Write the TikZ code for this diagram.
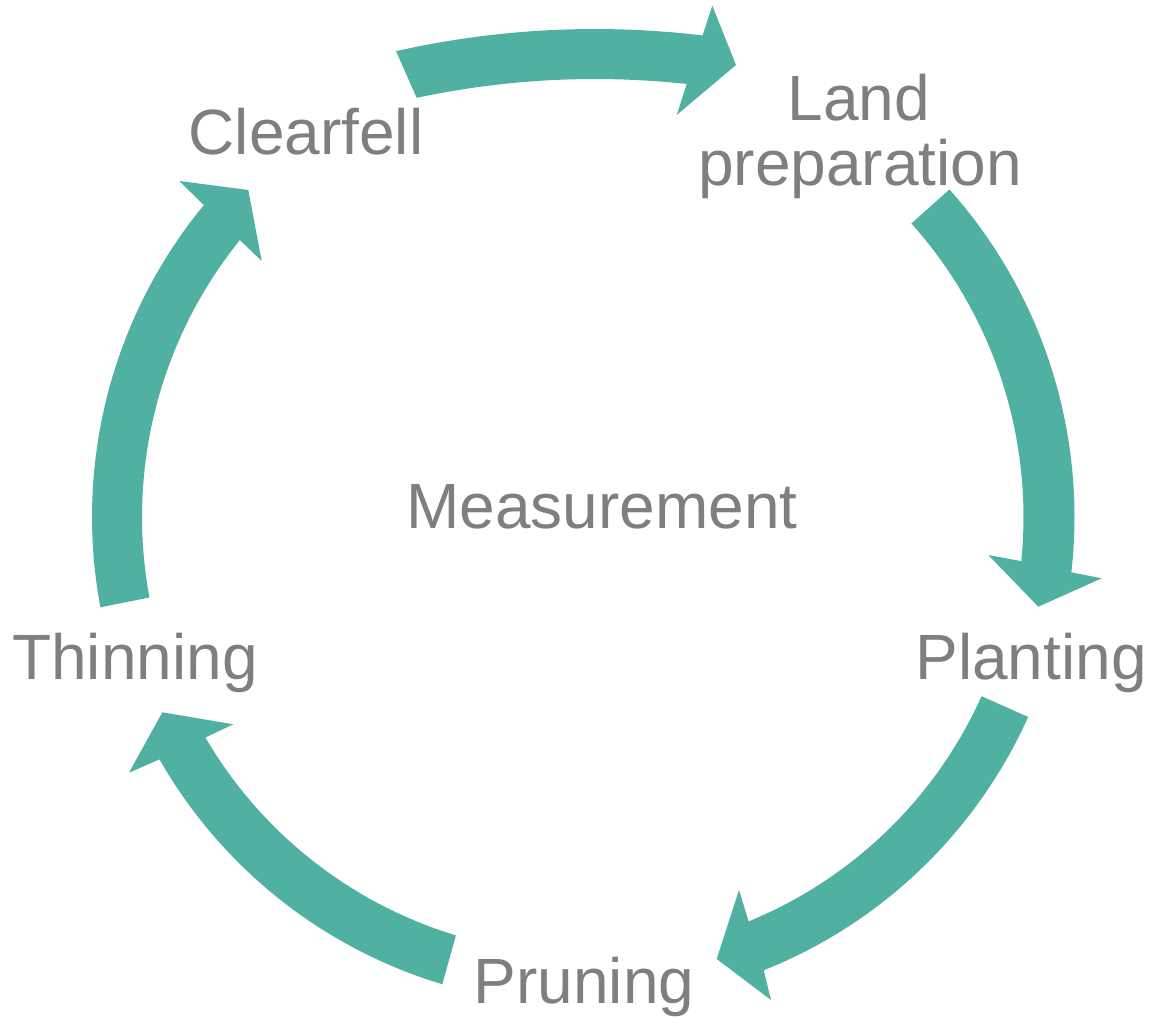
\documentclass[tikz,border=0pt]{standalone}
\usepackage{fontspec}
\setmainfont{Liberation Sans}
\definecolor{cyclecol}{RGB}{80,177,162}
\definecolor{labelgray}{RGB}{127,127,127}
\begin{document}
\begin{tikzpicture}[x=1pt,y=-1pt,
  lbl/.style={anchor=base, inner sep=0pt, text=labelgray, font=\fontsize{64}{66}\selectfont},
  cyc/.style={fill=cyclecol},
  arcpts/.style={samples=60}]
\useasboundingbox (0,0) rectangle (1149,1019);

% Clearfell -> Land preparation (flatter arc)
\fill[cyc] plot[arcpts,domain=-102.7:-83.17] ({595+905*cos(\x)},{934+905*sin(\x)})
  -- (712.3,5.7) -- (736,65) -- (676.7,115)
  -- plot[arcpts,domain=-83.84:-102.04] ({595+855*cos(\x)},{934+855*sin(\x)}) -- cycle;

% Land preparation -> Planting
\fill[cyc] plot[arcpts,domain=-41.79:6.47] ({583+491.5*cos(\x)},{517+491.5*sin(\x)})
  -- (1101.7,578.3) -- (1038.3,606.7) -- (988.3,555)
  -- plot[arcpts,domain=5.75:-41.79] ({583+440.5*cos(\x)},{517+440.5*sin(\x)}) -- cycle;

% Planting -> Pruning
\fill[cyc] plot[arcpts,domain=24.19:68.26] ({583+488*cos(\x)},{517+488*sin(\x)})
  -- (771,1000) -- (716.7,959) -- (739,890)
  -- plot[arcpts,domain=67.73:24.21] ({583+437*cos(\x)},{517+437*sin(\x)}) -- cycle;

% Pruning -> Thinning
\fill[cyc] plot[arcpts,domain=106.75:150.22] ({583+488*cos(\x)},{517+488*sin(\x)})
  -- (129,772.7) -- (162.3,712.3) -- (233.3,724.3)
  -- plot[arcpts,domain=149.72:106.9] ({583+437.3*cos(\x)},{517+437.3*sin(\x)}) -- cycle;

% Thinning -> Clearfell
\fill[cyc] plot[arcpts,domain=169.4:219.44] ({583+491*cos(\x)},{517+491*sin(\x)})
  -- (179.3,181) -- (248.3,190) -- (261.7,261)
  -- plot[arcpts,domain=218.91:169.48] ({583+441*cos(\x)},{517+441*sin(\x)}) -- cycle;

% Labels
\node[lbl] (clearfell) at (306,155) {Clearfell};
\node[lbl] (land) at (859,121) {Land};
\node[lbl] (prep) at (860,186) {preparation};
\node[lbl] (planting) at (1031,679) {Planting};
\node[lbl] (pruning) at (584,1003) {Pruning};
\node[lbl] (thinning) at (135,679) {Thinning};
\node[lbl] (measurement) at (602,528) {Measurement};
\end{tikzpicture}
\end{document}
